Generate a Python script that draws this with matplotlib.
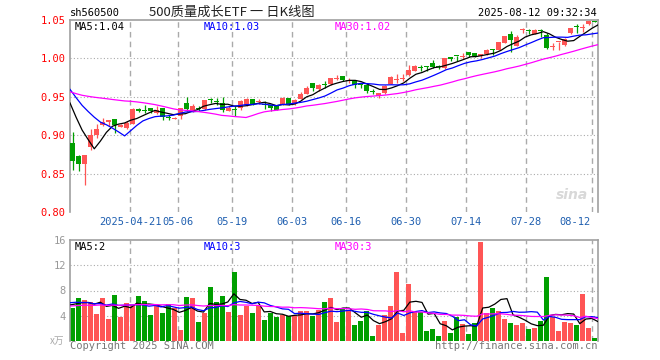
import numpy as np
import pandas as pd
import matplotlib
matplotlib.use("Agg")
import matplotlib.pyplot as plt

# --- daily K data (2025-04-07 .. 2025-08-12) ---
opens = [0.8895, 0.8728, 0.8627, 0.8842, 0.9003, 0.9131, 0.9175, 0.9215, 0.9110, 0.9092,
         0.9149, 0.9346, 0.9329, 0.9350, 0.9294, 0.9350, 0.9237, 0.9210, 0.9246, 0.9416,
         0.9320, 0.9349, 0.9342, 0.9460, 0.9443, 0.9425, 0.9320, 0.9338, 0.9355, 0.9390,
         0.9474, 0.9430, 0.9402, 0.9395, 0.9380, 0.9395, 0.9478, 0.9412, 0.9474, 0.9530,
         0.9680, 0.9600, 0.9655, 0.9662, 0.9730, 0.9768, 0.9710, 0.9710, 0.9660, 0.9650,
         0.9565, 0.9510, 0.9544, 0.9667, 0.9715, 0.9735, 0.9785, 0.9842, 0.9880, 0.9900,
         0.9935, 0.9898, 0.9878, 1.0017, 1.0035, 1.0020, 1.0087, 1.0065, 1.0030, 1.0052,
         1.0110, 1.0113, 1.0200, 1.0312, 1.0165, 1.0365, 1.0367, 1.0312, 1.0370, 1.0300,
         1.0148, 1.0213, 1.0170, 1.0334, 1.0413, 1.0400, 1.0443, 1.0486]
highs = [0.9048, 0.8740, 0.8737, 0.9077, 0.9145, 0.9224, 0.9200, 0.9215, 0.9150, 0.9180,
         0.9355, 0.9360, 0.9390, 0.9360, 0.9386, 0.9350, 0.9260, 0.9232, 0.9355, 0.9496,
         0.9410, 0.9375, 0.9452, 0.9490, 0.9478, 0.9500, 0.9377, 0.9377, 0.9452, 0.9478,
         0.9474, 0.9470, 0.9439, 0.9395, 0.9380, 0.9496, 0.9478, 0.9465, 0.9562, 0.9640,
         0.9680, 0.9662, 0.9706, 0.9750, 0.9780, 0.9776, 0.9740, 0.9710, 0.9680, 0.9650,
         0.9600, 0.9544, 0.9650, 0.9772, 0.9800, 0.9794, 0.9910, 0.9920, 0.9910, 0.9900,
         0.9980, 0.9909, 1.0009, 1.0017, 1.0035, 1.0074, 1.0087, 1.0065, 1.0056, 1.0122,
         1.0122, 1.0217, 1.0286, 1.0356, 1.0300, 1.0400, 1.0382, 1.0382, 1.0382, 1.0330,
         1.0200, 1.0217, 1.0260, 1.0400, 1.0443, 1.0443, 1.0500, 1.0490]
lows = [0.8544, 0.8535, 0.8347, 0.8807, 0.8970, 0.9123, 0.9120, 0.9035, 0.9105, 0.9080,
        0.9145, 0.9307, 0.9294, 0.9290, 0.9280, 0.9200, 0.9193, 0.9210, 0.9210, 0.9310,
        0.9300, 0.9318, 0.9330, 0.9417, 0.9390, 0.9300, 0.9310, 0.9254, 0.9325, 0.9377,
        0.9390, 0.9400, 0.9346, 0.9310, 0.9330, 0.9395, 0.9399, 0.9399, 0.9465, 0.9530,
        0.9570, 0.9575, 0.9610, 0.9653, 0.9715, 0.9700, 0.9684, 0.9610, 0.9610, 0.9550,
        0.9540, 0.9480, 0.9530, 0.9667, 0.9684, 0.9706, 0.9772, 0.9838, 0.9835, 0.9835,
        0.9870, 0.9866, 0.9865, 0.9965, 0.9965, 0.9996, 1.0017, 1.0013, 1.0009, 1.0043,
        1.0043, 1.0104, 1.0200, 1.0082, 1.0156, 1.0330, 1.0321, 1.0312, 1.0278, 1.0126,
        1.0104, 1.0104, 1.0157, 1.0321, 1.0334, 1.0347, 1.0434, 1.0470]
closes = [0.8667, 0.8627, 0.8737, 0.9000, 0.9083, 0.9166, 0.9200, 0.9136, 0.9136, 0.9158,
          0.9346, 0.9310, 0.9320, 0.9316, 0.9325, 0.9237, 0.9230, 0.9230, 0.9355, 0.9346,
          0.9386, 0.9346, 0.9452, 0.9454, 0.9430, 0.9325, 0.9355, 0.9333, 0.9439, 0.9465,
          0.9400, 0.9440, 0.9398, 0.9355, 0.9330, 0.9478, 0.9412, 0.9452, 0.9540, 0.9618,
          0.9614, 0.9650, 0.9650, 0.9740, 0.9740, 0.9720, 0.9720, 0.9650, 0.9655, 0.9575,
          0.9560, 0.9544, 0.9640, 0.9763, 0.9720, 0.9740, 0.9846, 0.9900, 0.9875, 0.9890,
          0.9890, 0.9894, 1.0009, 0.9987, 1.0030, 1.0030, 1.0048, 1.0030, 1.0056, 1.0110,
          1.0106, 1.0217, 1.0286, 1.0239, 1.0278, 1.0370, 1.0362, 1.0370, 1.0360, 1.0135,
          1.0152, 1.0217, 1.0256, 1.0400, 1.0410, 1.0405, 1.0486, 1.0480]
volumes = [5.28, 6.86, 6.5, 6.2, 4.33, 6.86, 3.54, 7.29, 3.85, 6.02,
           5.7, 7.13, 6.34, 4.12, 5.5, 4.45, 5.8, 5.2, 1.74, 7.0,
           6.8, 2.96, 4.4, 8.6, 6.2, 7.1, 4.6, 10.9, 4.1, 5.6,
           4.5, 5.5, 3.35, 4.45, 3.8, 4.1, 3.9, 4.1, 4.75, 4.75,
           3.95, 4.9, 6.2, 6.8, 3.0, 5.2, 4.9, 2.5, 3.2, 4.75,
           0.8, 2.5, 4.1, 5.5, 10.9, 1.3, 9.0, 4.75, 4.6, 1.6,
           1.9, 0.8, 3.2, 1.3, 3.8, 2.7, 1.1, 2.85, 15.7, 4.4,
           5.2, 4.75, 3.5, 2.85, 2.5, 2.85, 1.9, 2.06, 3.2, 10.1,
           3.8, 1.6, 3.0, 2.85, 2.5, 7.44, 2.06, 0.5]

# sessions before the first shown candle (only feed the moving averages)
closes_before = [0.935, 0.938, 0.940, 0.944, 0.946, 0.948, 0.945, 0.942, 0.944, 0.948,
                 0.955, 0.962, 0.968, 0.972, 0.975, 0.978, 0.980, 0.978, 0.952, 0.949,
                 0.970, 0.975, 0.980, 0.982, 0.980, 0.955, 0.958, 0.962, 0.968]
volumes_before = [5.1, 4.8, 5.6, 5.3, 4.9, 5.5, 6.0, 5.2, 4.7, 5.4,
                  5.0, 5.8, 5.1, 4.9, 5.6, 5.3, 5.2, 5.4, 5.1, 5.6,
                  6.2, 6.8, 6.5, 6.1, 6.6, 5.9, 5.6, 6.0, 5.72]

date_labels = ['2025-04-21', '05-06', '05-19', '06-03', '06-16', '06-30', '07-14', '07-28', '08-12']
date_pos = [10, 18, 27, 37, 46, 56, 66, 76, 87]
price_ticks = [0.80, 0.85, 0.90, 0.95, 1.00, 1.05]
vol_ticks = [4, 8, 12, 16]

RED, GREEN = '#ff5555', '#009f00'
GRID = '#aaaaaa'
MONO = 'DejaVu Sans Mono'
CJK = ['Noto Sans CJK SC', 'DejaVu Sans']

n = len(closes)
idx = np.arange(n)
o, h, l, c = map(np.array, (opens, highs, lows, closes))
up = c >= o
colors = np.where(up, RED, GREEN)

all_c = pd.Series(closes_before + closes)
all_v = pd.Series(volumes_before + volumes)
ma = {k: all_c.rolling(k).mean().values[-n:] for k in (5, 10, 30)}
vma = {k: all_v.rolling(k).mean().values[-n:] for k in (5, 10, 30)}
ma_colors = {5: 'black', 10: '#0000ff', 30: '#ff00ff'}

fig = plt.figure(figsize=(6.6, 3.6), dpi=100)
W, H = 660, 360
ax = fig.add_axes([70 / W, 1 - 212 / H, 528 / W, 192 / H])
axv = fig.add_axes([70 / W, 1 - 341 / H, 528 / W, 101 / H])

x0, x1 = -0.47, 87.53
line_x = np.linspace(x0, x1, n)

# --- price panel ---
for y in price_ticks[1:-1]:
    ax.axhline(y, color=GRID, lw=0.8, ls=(0, (1, 2)), zorder=0)
for p in date_pos:
    ax.axvline(p - 0.4, color=GRID, lw=1, ls=(0, (4, 3)), zorder=0)
    axv.axvline(p - 0.4, color=GRID, lw=1, ls=(0, (4, 3)), zorder=0)

ax.vlines(idx, l, h, colors=colors, lw=0.9, zorder=2)
body = np.maximum(np.abs(c - o), 0.0012)
ax.bar(idx, body, 0.8, bottom=np.minimum(o, c), color=colors, lw=0, zorder=3)
for k in (5, 10, 30):
    ax.plot(line_x, ma[k], color=ma_colors[k], lw=0.9, zorder=4)

ax.set_xlim(x0, x1)
ax.set_ylim(0.80, 1.05)
ax.set_xticks([])
ax.set_yticks(price_ticks)
ax.set_yticklabels(['%.2f' % t for t in price_ticks], color='#ff0000',
                   fontsize=7.5, family=MONO)
ax.tick_params(axis='y', length=0, pad=3)

for i, (p, lab) in enumerate(zip(date_pos, date_labels)):
    last = i == len(date_pos) - 1
    ax.text(p - 0.4 - (0.3 if last else 0), -0.052, lab, transform=ax.get_xaxis_transform(),
            ha='right' if last else 'center', va='center', color='#1f5fb0',
            fontsize=7.5, family=MONO)

ax.text(5 / 528, 1 - 7 / 192, 'MA5:1.04', transform=ax.transAxes, color='black',
        fontsize=7.5, family=MONO, va='center')
ax.text(134 / 528, 1 - 7 / 192, 'MA10:1.03', transform=ax.transAxes, color='#0000ff',
        fontsize=7.5, family=MONO, va='center')
ax.text(265 / 528, 1 - 7 / 192, 'MA30:1.02', transform=ax.transAxes, color='#ff00ff',
        fontsize=7.5, family=MONO, va='center')
ax.text(0.95, 0.09, 'sina', transform=ax.transAxes, color='#d8d8d8', fontsize=10,
        style='italic', weight='bold', ha='center', va='center', zorder=1)

# --- volume panel ---
for y in vol_ticks[:-1]:
    axv.axhline(y, color=GRID, lw=0.8, ls=(0, (1, 2)), zorder=0)
axv.bar(idx, volumes, 0.8, color=colors, lw=0, zorder=2)
for k in (5, 10, 30):
    axv.plot(line_x, vma[k], color=ma_colors[k], lw=0.9, zorder=3)
axv.set_xlim(x0, x1)
axv.set_ylim(0, 16)
axv.set_xticks([])
axv.set_yticks(vol_ticks)
axv.set_yticklabels([str(t) for t in vol_ticks], color='#999999', fontsize=7.5, family=MONO)
axv.tick_params(axis='y', length=0, pad=3)
axv.text(5 / 528, 1 - 7 / 101, 'MA5:2', transform=axv.transAxes, color='black',
         fontsize=7.5, family=MONO, va='center')
axv.text(134 / 528, 1 - 7 / 101, 'MA10:3', transform=axv.transAxes, color='#0000ff',
         fontsize=7.5, family=MONO, va='center')
axv.text(265 / 528, 1 - 7 / 101, 'MA30:3', transform=axv.transAxes, color='#ff00ff',
         fontsize=7.5, family=MONO, va='center')

for a in (ax, axv):
    for s in a.spines.values():
        s.set_color('#a0a0a0')
        s.set_linewidth(1.2)
    a.spines['bottom'].set_visible(False)
    a.set_facecolor('white')

# --- header / footer ---
fig.text(70 / W, 1 - 13 / H, 'sh560500', fontsize=7.5, family=MONO, va='center')
fig.text(232 / W, 1 - 12 / H, '500质量成长ETF 一 日K线图', fontsize=9.5, family=CJK,
         ha='center', va='center', color='#222222')
fig.text(597 / W, 1 - 13 / H, '2025-08-12 09:32:34', fontsize=7.5, family=MONO,
         ha='right', va='center')
fig.text(70 / W, 1 - 346 / H, 'Copyright 2025 SINA.COM', fontsize=7.5, family=MONO,
         va='center', color='#777777')
fig.text(597 / W, 1 - 346 / H, 'http://finance.sina.com.cn', fontsize=7.5, family=MONO,
         ha='right', va='center', color='#777777')
fig.text(64 / W, 1 - 341 / H, 'x万', fontsize=7, family=CJK, ha='right', va='center',
         color='#aaaaaa', style='italic')

fig.savefig('out.png', dpi=100)
